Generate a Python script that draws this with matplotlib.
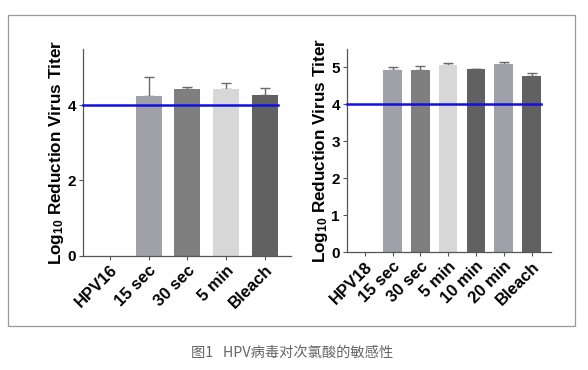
import matplotlib
matplotlib.use("Agg")
import matplotlib.pyplot as plt
from matplotlib.patches import Rectangle
import numpy as np

# HPV16 panel
cats16 = ["HPV16", "15 sec", "30 sec", "5 min", "Bleach"]
vals16 = [0.0, 4.26, 4.44, 4.43, 4.27]
errs16 = [0.0, 0.49, 0.04, 0.17, 0.18]
cols16 = ["#a0a0a8", "#a0a0a8", "#7f7f7f", "#d7d7d7", "#616161"]

# HPV18 panel
cats18 = ["HPV18", "15 sec", "30 sec", "5 min", "10 min", "20 min", "Bleach"]
vals18 = [0.0, 4.94, 4.94, 5.08, 4.95, 5.09, 4.76]
errs18 = [0.0, 0.08, 0.09, 0.04, 0.02, 0.06, 0.10]
cols18 = ["#a0a0a8", "#a0a0a8", "#7f7f7f", "#d7d7d7", "#616161", "#a0a0a8", "#616161"]

THRESHOLD = 4
CAPTION = "图1   HPV病毒对次氯酸的敏感性"

plt.rcParams.update({
    "font.family": ["Liberation Sans", "DejaVu Sans"],
    "mathtext.fontset": "custom",
    "mathtext.rm": "Liberation Sans:bold",
    "mathtext.it": "Liberation Sans:bold",
    "mathtext.bf": "Liberation Sans:bold",
})

W, H = 588, 370
fig = plt.figure(figsize=(W / 100, H / 100), dpi=100)


def px_axes(x0, y0, x1, y1):
    return fig.add_axes([x0 / W, 1 - y1 / H, (x1 - x0) / W, (y1 - y0) / H])


def draw_panel(ax, cats, vals, errs, cols, yticks, xlim):
    x = np.arange(len(cats))
    ax.bar(x, vals, 0.67, color=cols, zorder=2)
    for xi, v, e in zip(x, vals, errs):
        if e > 0:
            ax.errorbar(xi, v, yerr=[[0], [e]], color="#6a6a6a", lw=1.0,
                        capsize=3.5, capthick=1.0, zorder=1)
    ax.plot([xlim[0], x[-1] + 0.335], [THRESHOLD, THRESHOLD], color="#1010e0",
            lw=1.8, zorder=3, clip_on=False)
    ax.set_xlim(*xlim)
    ax.set_ylim(0, 5.5)
    ax.set_yticks(yticks)
    ax.set_yticklabels([str(t) for t in yticks], fontsize=11, fontweight="bold")
    ax.set_xticks(x)
    ax.set_xticklabels(cats, rotation=45, ha="right", rotation_mode="anchor",
                       fontsize=12, fontweight="bold")
    for s in ("top", "right"):
        ax.spines[s].set_visible(False)
    for s in ("left", "bottom"):
        ax.spines[s].set_color("#555555")
        ax.spines[s].set_linewidth(0.9)
    ax.tick_params(axis="both", length=3, width=0.8, color="#555555", pad=2)
    ax.set_ylabel(r"Log$_{10}$ Reduction Virus Titer", fontsize=12.3,
                  fontweight="bold", labelpad=1)


ax1 = px_axes(83, 49, 291, 255.5)
draw_panel(ax1, cats16, vals16, errs16, cols16, [0, 2, 4], (-0.69, 4.67))

ax2 = px_axes(346.7, 49, 550.7, 252)
draw_panel(ax2, cats18, vals18, errs18, cols18, [0, 1, 2, 3, 4, 5], (-0.65, 6.69))

fig.patches.append(Rectangle((8 / W, 1 - 326 / H), 567 / W, 311 / H,
                             transform=fig.transFigure, fill=False,
                             edgecolor="#9a9a9a", lw=0.9))

fig.text(292 / W, 1 - 353 / H, CAPTION, ha="center", va="center",
         fontsize=10.3, color="#666666",
         family=["Noto Sans CJK SC", "DejaVu Sans"])

fig.savefig("out.png", dpi=100)
